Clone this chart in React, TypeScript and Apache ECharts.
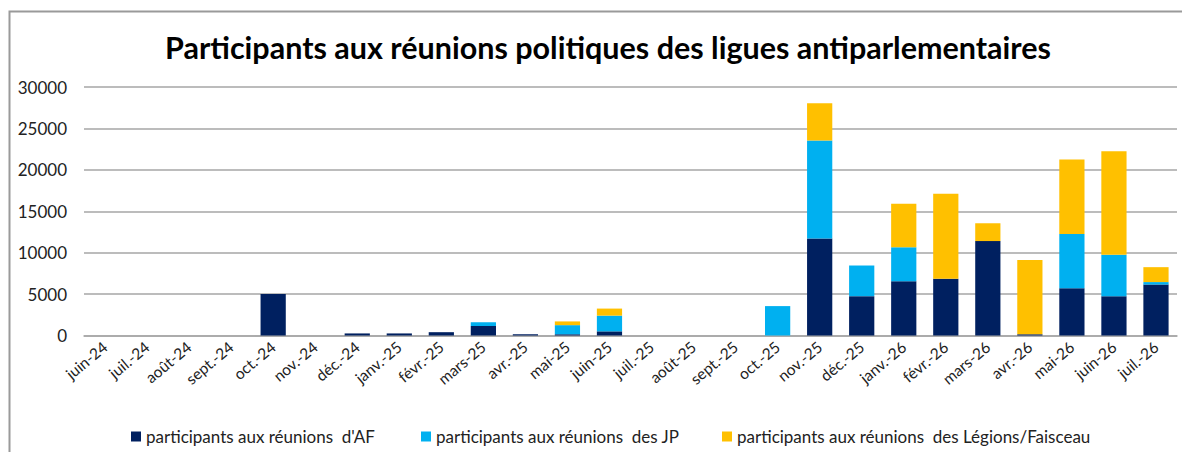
import React, { useEffect, useRef } from "react";
import * as echarts from "echarts";

const TITLE = "Participants aux réunions politiques des ligues antiparlementaires";

const categories = [
  "juin-24", "juil.-24", "août-24", "sept.-24", "oct.-24", "nov.-24", "déc.-24",
  "janv.-25", "févr.-25", "mars-25", "avr.-25", "mai-25", "juin-25", "juil.-25",
  "août-25", "sept.-25", "oct.-25", "nov.-25", "déc.-25", "janv.-26", "févr.-26",
  "mars-26", "avr.-26", "mai-26", "juin-26", "juil.-26",
];

const seriesNames = [
  "participants aux réunions  d'AF",
  "participants aux réunions  des JP",
  "participants aux réunions  des Légions/Faisceau",
];

const afValues = [0, 0, 0, 0, 5000, 0, 250, 250, 400, 1150, 150, 150, 500, 0, 0, 0, 0, 11700, 4750, 6550, 6850, 11400, 150, 5700, 4750, 6150];
const jpValues = [0, 0, 0, 0, 0, 0, 0, 0, 0, 450, 0, 1100, 1900, 0, 0, 0, 3550, 11850, 3700, 4100, 0, 0, 0, 6550, 5000, 300];
const legionValues = [0, 0, 0, 0, 0, 0, 0, 0, 0, 0, 0, 450, 850, 0, 0, 0, 0, 4500, 0, 5250, 10250, 2150, 8950, 9000, 12500, 1800];

const colors = ["#002060", "#00B0F0", "#FFC000"];

export default function App() {
  const ref = useRef<HTMLDivElement>(null);
  useEffect(() => {
    if (!ref.current) return;
    const chart = echarts.init(ref.current, undefined, { renderer: "svg" });
    const font = "Lato, 'Open Sans', sans-serif";
    const legendLefts = [126, 416, 717];
    chart.setOption({
      animation: false,
      backgroundColor: "#ffffff",
      title: {
        text: TITLE,
        left: 603,
        top: 26,
        textAlign: "center",
        textStyle: { fontFamily: font, fontSize: 30.5, fontWeight: "bold", color: "#000" },
      },
      graphic: [
        {
          type: "rect",
          shape: { x: 9.5, y: 11.5, width: 1200, height: 500 },
          style: { fill: "none", stroke: "#9a9a9a", lineWidth: 2 },
          silent: true,
        },
      ],
      legend: seriesNames.map((n, i) => ({
        data: [n],
        left: legendLefts[i],
        top: 423,
        icon: "rect",
        itemWidth: 10,
        itemHeight: 10,
        itemGap: 5,
        textStyle: { fontFamily: font, fontSize: 17, color: "#222" },
      })),
      grid: { left: 84, right: 5, top: 87, bottom: 116.5 },
      xAxis: {
        type: "category",
        data: categories,
        axisLine: { lineStyle: { color: "#a6a6a6", width: 1.5 } },
        axisTick: { show: false },
        axisLabel: {
          interval: 0,
          rotate: 40,
          margin: 9,
          fontFamily: font,
          fontSize: 15.5,
          color: "#222",
        },
      },
      yAxis: {
        type: "value",
        min: 0,
        max: 30000,
        interval: 5000,
        axisLine: { show: false },
        axisTick: { show: false },
        splitLine: { lineStyle: { color: "#a6a6a6", width: 1.5 } },
        axisLabel: {
          fontFamily: font,
          fontSize: 17,
          color: "#222",
          margin: 17,
          formatter: (v: number) => String(v),
        },
      },
      series: [afValues, jpValues, legionValues].map((vals, i) => ({
        name: seriesNames[i],
        type: "bar",
        stack: "total",
        data: vals,
        barCategoryGap: "40%",
        itemStyle: { color: colors[i] },
      })),
    });
    return () => chart.dispose();
  }, []);
  return (
    <div
      ref={ref}
      style={{ position: "fixed", left: 0, top: 0, width: 1182, height: 452 }}
    />
  );
}
